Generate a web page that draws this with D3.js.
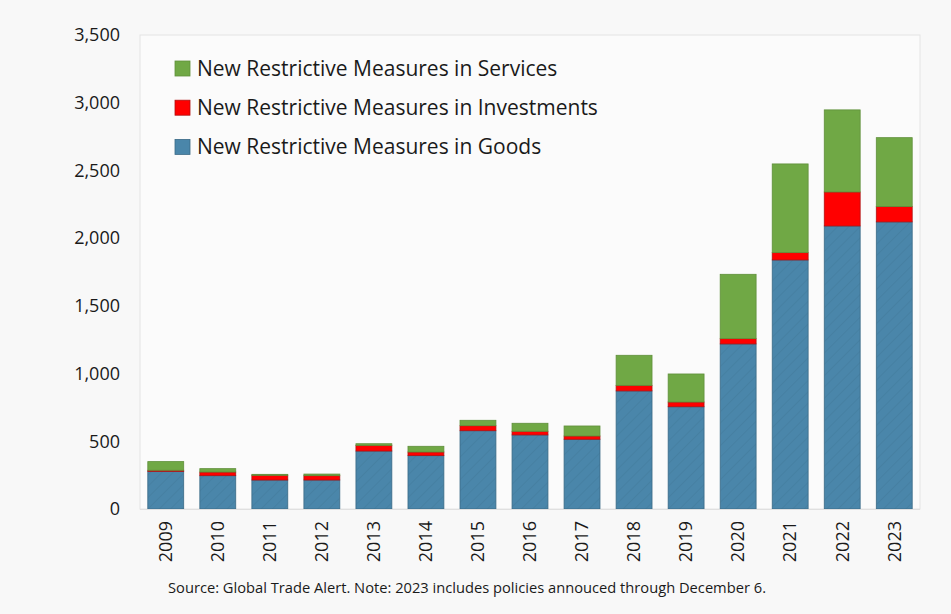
<!DOCTYPE html>
<html>
<head>
<meta charset="utf-8">
<script src="https://cdn.jsdelivr.net/npm/d3@7"></script>
<style>
  html, body { margin: 0; padding: 0; background: #f8f8f8; }
  svg { display: block; }
  text { font-family: "Open Sans", "Noto Sans", sans-serif; fill: #1a1a1a; }
</style>
</head>
<body>
<svg id="chart" width="951" height="614"></svg>
<script>
// Years on the horizontal axis
const years = ["2009","2010","2011","2012","2013","2014","2015","2016","2017","2018","2019","2020","2021","2022","2023"];
// New restrictive measures, by type (count per year)
const goods       = [278, 246, 214, 214, 428, 394, 578, 547, 515, 872, 755, 1219, 1839, 2090, 2120];
const investments = [  8,  27,  35,  32,  42,  27,  37,  27,  24,  41,  35,   39,   54,  251,  113];
const services    = [ 64,  25,   7,  12,  12,  42,  40,  59,  74, 222, 207,  475,  655,  606,  509];
// Value-axis ticks
const yTicks = [0, 500, 1000, 1500, 2000, 2500, 3000, 3500];
// Series names, bottom to top of the stack
const seriesNames = [
  "New Restrictive Measures in Goods",
  "New Restrictive Measures in Investments",
  "New Restrictive Measures in Services"
];
const sourceNote = "Source: Global Trade Alert. Note: 2023 includes policies annouced through December 6.";

const fills   = { goods: "#4a86aa", investments: "#ff0000", services: "#70a845" };
const strokes = { goods: "#3a6a86", investments: "#b01010", services: "#5f8f3a" };

const rows = years.map((y, i) => ({ year: y, goods: goods[i], investments: investments[i], services: services[i] }));
const keys = ["goods", "investments", "services"];
const stacked = d3.stack().keys(keys)(rows);

const svg = d3.select("#chart");
const plot = { left: 140, right: 920, top: 35, bottom: 509 };

const x = d3.scaleBand().domain(years).range([plot.left, plot.right])
  .paddingInner(0.31).paddingOuter(0.15);
const y = d3.scaleLinear().domain([0, 3500]).range([plot.bottom, plot.top]);

// Subtle diagonal texture on the goods bars
const defs = svg.append("defs");
const pat = defs.append("pattern").attr("id", "goodsHatch")
  .attr("patternUnits", "userSpaceOnUse").attr("width", 8).attr("height", 8)
  .attr("patternTransform", "rotate(45)");
pat.append("rect").attr("width", 8).attr("height", 8).attr("fill", fills.goods);
pat.append("line").attr("x1", 0).attr("y1", 0).attr("x2", 0).attr("y2", 8)
  .attr("stroke", "#3f7899").attr("stroke-width", 1.5).attr("stroke-opacity", 0.6);

// Plot-area frame
svg.append("rect")
  .attr("x", plot.left).attr("y", plot.top)
  .attr("width", plot.right - plot.left).attr("height", plot.bottom - plot.top)
  .attr("fill", "#fbfbfb").attr("stroke", "#e4e4e4").attr("stroke-width", 1);

// Stacked bars
svg.append("g").selectAll("g").data(stacked).join("g")
  .each(function (layer) {
    const k = layer.key;
    d3.select(this).selectAll("rect").data(layer).join("rect")
      .attr("x", d => x(d.data.year))
      .attr("width", x.bandwidth())
      .attr("y", d => y(d[1]))
      .attr("height", d => y(d[0]) - y(d[1]))
      .attr("fill", k === "goods" ? "url(#goodsHatch)" : fills[k])
      .attr("stroke", strokes[k])
      .attr("stroke-width", 0.8);
  });

// Baseline
svg.append("line")
  .attr("x1", plot.left).attr("x2", plot.right)
  .attr("y1", plot.bottom + 0.5).attr("y2", plot.bottom + 0.5)
  .attr("stroke", "#e0e0e0").attr("stroke-width", 1);

// Y axis labels
const yAxis = d3.axisLeft(y).tickValues(yTicks).tickFormat(d3.format(",")).tickSize(0).tickPadding(20);
const yg = svg.append("g").attr("transform", `translate(${plot.left},0)`).call(yAxis);
yg.select(".domain").remove();
yg.selectAll("text").style("font-size", "18px").attr("fill", "#1a1a1a")
  .style("font-family", "'Open Sans', sans-serif");

// X axis labels, rotated
const xAxis = d3.axisBottom(x).tickSize(0).tickPadding(0);
const xg = svg.append("g").attr("transform", `translate(0,${plot.bottom})`).call(xAxis);
xg.select(".domain").remove();
xg.selectAll("text")
  .style("font-size", "18px").attr("fill", "#1a1a1a")
  .style("font-family", "'Open Sans', sans-serif")
  .attr("text-anchor", "end")
  .attr("dy", "0.35em")
  .attr("transform", "translate(0,12) rotate(-90)")
  .attr("x", 0).attr("y", 0);

// Legend (services on top)
const legendOrder = [
  { key: "services", name: seriesNames[2] },
  { key: "investments", name: seriesNames[1] },
  { key: "goods", name: seriesNames[0] }
];
const lg = svg.append("g");
legendOrder.forEach((item, i) => {
  const cy = 68.5 + i * 39.2;
  lg.append("rect").attr("x", 175).attr("y", cy - 7.5).attr("width", 15).attr("height", 15)
    .attr("fill", fills[item.key]).attr("stroke", strokes[item.key]).attr("stroke-width", 0.8);
  lg.append("text").attr("x", 197).attr("y", cy).attr("dy", "0.35em")
    .style("font-size", "21px").text(item.name);
});

// Source note
svg.append("text").attr("x", 168).attr("y", 593)
  .attr("textLength", 598).attr("lengthAdjust", "spacingAndGlyphs")
  .style("font-size", "14px").style("font-family", "'Liberation Sans Narrow', 'Open Sans', sans-serif")
  .text(sourceNote);
</script>
</body>
</html>
